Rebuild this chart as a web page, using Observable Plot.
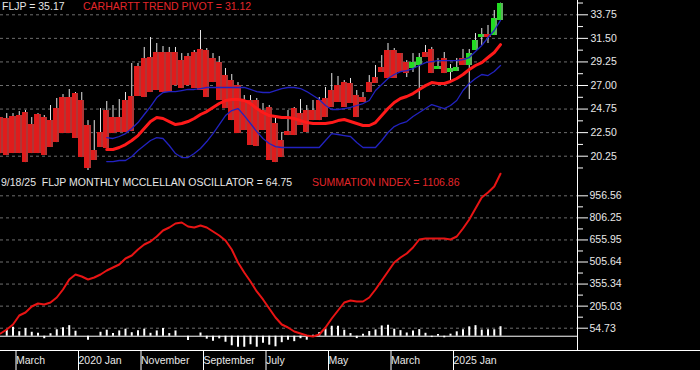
<!DOCTYPE html>
<html><head><meta charset="utf-8">
<script src="https://cdn.jsdelivr.net/npm/d3@7"></script>
<script src="https://cdn.jsdelivr.net/npm/@observablehq/plot@0.6"></script>
<style>
body{margin:0;background:#000;}
#chart{position:relative;width:700px;height:370px;background:#000;overflow:hidden;font-family:Arial,"Liberation Sans",sans-serif;}
#chart svg{position:absolute;left:0;display:block;}
#xline{position:absolute;left:0;top:350px;width:700px;height:0;border-top:1px solid #fff;}
.lbl{position:absolute;font-size:10.5px;line-height:12px;white-space:pre;}
</style></head><body>
<div id="chart"><div id="xline"></div></div>
<script>
// ---------- DATA (monthly, Jan 2019 .. Sep 2025) ----------
const opens = [23.94,23.85,24.04,24.13,24.42,23.27,24.23,23.94,23.65,24.80,
  25.85,25.85,26.23,25.57,23.18,20.79,22.51,24.61,23.94,23.94,
  25.57,25.95,28.81,29.58,29.67,30.15,30.15,30.15,30.15,29.38,
  29.77,30.15,30.44,30.34,29.58,29.19,27.95,27.47,26.99,25.57,
  25.57,25.57,24.61,24.90,23.37,21.75,22.60,24.80,24.32,24.61,
  24.61,25.57,25.76,26.52,26.99,27.28,27.19,26.04,25.85,27.28,
  27.76,28.72,30.34,30.34,30.05,29.19,28.62,28.91,30.15,30.44,
  28.53,29.58,28.24,28.33,29.58,28.91,30.34,31.58,31.87,31.77,33.21];
const closes = [20.50,20.31,20.50,20.50,19.64,20.50,20.50,20.31,21.08,21.55,
  22.41,22.41,21.94,20.12,19.07,19.84,21.08,20.98,22.41,22.51,
  22.51,22.60,25.95,25.85,26.33,26.52,26.33,26.33,26.99,26.71,
  26.99,26.71,26.52,25.85,27.28,25.57,24.80,23.65,22.41,22.70,
  21.27,21.17,22.70,19.84,19.64,20.12,22.22,22.22,23.18,22.51,
  23.65,23.65,23.94,24.90,25.38,24.90,25.28,23.94,25.38,26.33,
  27.19,28.24,27.67,27.67,28.24,28.14,29.19,29.67,29.67,28.14,
  28.81,28.14,28.62,28.72,28.91,30.05,31.30,31.87,31.58,33.40,34.86];
const highs = [23.94,24.32,24.32,24.51,24.61,23.94,24.32,24.13,25.09,25.76,
  26.14,26.62,26.33,26.33,23.65,23.65,24.80,25.47,25.09,25.66,
  26.33,29.10,29.10,30.63,31.58,31.01,30.72,30.63,30.63,30.05,
  30.05,30.34,32.25,30.53,30.05,29.77,28.62,28.05,27.28,26.04,
  26.04,25.76,25.28,25.09,23.85,22.51,24.61,24.90,25.66,25.09,
  25.57,25.85,26.81,28.14,27.86,27.47,27.67,26.52,26.33,27.95,
  28.91,29.86,31.01,30.53,30.05,29.38,30.05,30.05,30.82,30.63,
  29.58,30.15,29.00,29.58,30.44,30.44,31.96,32.44,32.73,34.16,34.86];
const lows = [20.50,20.31,20.50,20.50,19.64,20.50,20.50,20.31,21.08,21.55,
  22.41,22.41,21.94,20.12,18.59,19.84,21.08,20.98,22.41,22.51,
  22.51,22.60,25.95,25.85,26.33,26.52,26.33,26.33,26.99,26.71,
  26.99,26.71,26.52,25.85,27.28,25.57,24.80,23.65,22.41,22.70,
  21.27,21.17,22.70,19.84,19.64,20.12,22.22,22.22,23.18,22.51,
  23.65,23.65,23.94,24.90,25.38,24.90,25.28,23.94,25.38,26.33,
  27.19,28.24,27.67,27.67,28.24,27.76,28.24,25.66,29.67,28.14,
  28.53,28.14,27.19,28.33,28.91,25.66,30.34,30.82,31.01,31.77,33.21];
const trendPivot = [null,null,null,null,null,null,null,null,null,null,
  null,null,null,null,null,null,null,20.89,20.89,21.08,
  21.36,21.75,22.22,22.89,23.56,23.94,23.85,23.56,23.27,23.37,
  23.56,23.85,24.23,24.51,24.90,25.28,25.57,25.66,25.66,25.57,
  25.28,24.80,24.42,24.13,24.04,23.94,23.94,23.85,23.65,23.46,
  23.37,23.37,23.37,23.46,23.65,23.75,23.56,23.37,23.18,23.18,
  23.46,24.13,24.80,25.38,25.76,25.95,26.23,26.62,26.99,27.28,
  27.19,27.19,27.38,27.67,28.05,28.53,28.91,29.19,29.67,30.15,30.90];
const upperBand = [null,null,null,null,null,null,null,null,null,null,
  null,null,null,null,null,null,null,22.03,21.94,22.13,
  22.41,22.89,23.46,24.23,24.99,25.85,26.33,26.42,26.42,26.52,
  26.62,26.62,26.71,26.81,26.81,26.81,26.81,26.81,26.81,26.81,
  26.62,26.42,26.33,26.33,26.52,26.71,26.81,26.81,26.71,26.42,
  26.04,25.66,25.09,24.71,24.71,24.80,24.90,25.09,25.28,25.57,
  26.52,27.09,27.67,28.05,28.33,28.43,28.62,28.91,29.19,29.29,
  29.38,29.38,29.38,29.38,29.48,29.67,30.24,30.82,31.58,32.25,33.21];
const lowerBand = [null,null,null,null,null,null,null,null,null,null,
  null,null,null,null,null,null,null,19.74,19.74,19.84,
  19.84,20.22,20.79,21.27,21.75,22.03,21.94,21.27,20.50,20.12,
  20.12,20.50,20.98,21.65,22.41,23.27,24.13,24.61,24.80,24.13,
  23.37,22.60,21.94,21.46,21.17,21.08,21.08,21.08,21.08,21.08,
  21.08,21.08,21.75,22.41,22.32,22.22,22.13,21.55,21.08,21.08,
  21.08,21.75,22.51,23.08,23.37,23.56,24.04,24.42,24.80,25.18,
  24.99,24.80,25.09,25.57,26.52,27.19,27.67,28.05,27.95,28.33,28.91];
const summation = [18.6,45.9,79.9,141.2,161.7,202.6,223.0,216.2,229.8,263.9,
  318.4,386.5,420.5,406.9,386.5,400.1,420.5,447.8,468.2,488.7,
  529.6,550.0,590.9,624.9,645.4,679.4,720.3,740.7,768.0,774.8,
  747.5,740.7,754.4,740.7,713.5,686.2,652.1,590.9,502.3,434.2,
  372.9,304.8,250.3,189.0,127.7,80.0,59.5,32.3,18.6,5.0,
  -1.8,11.8,59.5,120.8,175.3,229.8,243.4,236.6,236.6,263.9,
  318.4,379.7,441.0,502.3,536.4,563.6,604.5,659.0,665.8,665.8,
  665.8,665.8,659.0,679.4,733.9,795.2,870.1,945.0,979.1,1020.0,1106.86];
const oscillator = [0,44,61,31,52,27,20,-17,17,44,
  58,72,34,0,-27,0,27,41,18,36,
  48,24,37,48,20,36,52,18,36,0,
  -29,0,22,-20,-34,-18,-41,-65,-75,-75,
  -58,-75,-48,-61,-72,-44,-27,-37,-17,-27,
  7,25,45,68,68,41,18,-16,14,32,
  43,70,75,48,38,22,36,45,20,-9,
  12,-11,14,30,45,64,72,42,44,44,64.75];
const priceTicks = [20.25,22.50,24.75,27.00,29.25,31.50,33.75];
const oscTicks = [54.73,205.03,355.34,505.64,655.95,806.25,956.56];
const xTickMonths = [2,12,22,32,42,52,62,72];
const xTickLabels = ["March","2020 Jan","November","September","July","May","March","2025 Jan"];

// ---------- BUILD ----------
const idx = opens.map((_, i) => i);
const bars = idx.map(i => ({i, open: opens[i], close: closes[i], high: highs[i], low: lows[i]}));
const upBars = bars.filter(d => d.close > d.open);
const downBars = bars.filter(d => d.close <= d.open);
const mid = t => d3.pairs(t).map(([a, b]) => (a + b) / 2);
const priceMinor = [...mid(priceTicks), 19.125, 34.875];
const oscMinor = mid(oscTicks);
const xDomain = [0, 92.32];
const font = {background: "transparent", color: "#e8e8e8", fontSize: "10.5px", fontFamily: "Arial, 'Liberation Sans', sans-serif", overflow: "visible"};
const grid = {stroke: "#6e6e6e", strokeOpacity: 1, strokeDasharray: "3,3"};

const candle = (data, c1, c2) => [
  Plot.rect(data, {x1: d => d.i - 0.5, x2: d => d.i + 0.18, y1: "open", y2: "close", fill: c1, clip: true, shapeRendering: "crispEdges"}),
  Plot.rect(data, {x1: d => d.i + 0.18, x2: d => d.i + 0.5, y1: "open", y2: "close", fill: c2, clip: true, shapeRendering: "crispEdges"})
];

const topPlot = Plot.plot({
  width: 700, height: 170, marginLeft: 0, marginRight: 123, marginTop: 0, marginBottom: 0,
  x: {domain: xDomain, axis: null},
  y: {domain: [18.884, 35.116]},
  style: font,
  marks: [
    Plot.gridY(priceTicks, grid),
    Plot.ruleX(bars, {x: "i", y1: "low", y2: "high", stroke: "#e6e6e6", strokeWidth: 1, clip: true}),
    ...candle(downBars, "#e01c1c", "#b03636"),
    ...candle(upBars, "#22dd22", "#5fae5f"),
    Plot.line(idx, {x: i => i, y: i => upperBand[i], stroke: "#2222c0", strokeWidth: 1.3}),
    Plot.line(idx, {x: i => i, y: i => lowerBand[i], stroke: "#2222c0", strokeWidth: 1.3}),
    Plot.line(idx, {x: i => i, y: i => trendPivot[i], stroke: "#ff1a1a", strokeWidth: 3}),
    Plot.ruleX([xDomain[1]], {stroke: "#fff"}),
    Plot.axisY(priceTicks, {anchor: "right", tickSize: 10, tickPadding: 3, tickFormat: d => d.toFixed(2), stroke: "#fff"}),
    Plot.axisY(priceMinor, {anchor: "right", tickSize: 5, tickFormat: () => "", stroke: "#fff"})
  ]
});
topPlot.style.top = "0px";

const bottomPlot = Plot.plot({
  width: 700, height: 200, marginLeft: 0, marginRight: 123, marginTop: 0, marginBottom: 20,
  x: {domain: xDomain},
  y: {domain: [-97.2, 1129.0]},
  style: font,
  marks: [
    Plot.gridY(oscTicks, grid),
    Plot.ruleX(idx, {x: i => i, y1: 0, y2: i => oscillator[i], stroke: "#fff", strokeWidth: 2}),
    Plot.ruleY([0], {stroke: "#fff"}),
    Plot.line(idx, {x: i => i, y: i => summation[i], stroke: "#e81414", strokeWidth: 2}),
    Plot.ruleX([xDomain[1]], {stroke: "#fff"}),
    Plot.axisY(oscTicks, {anchor: "right", tickSize: 10, tickPadding: 2, tickFormat: d => d.toFixed(2), stroke: "#fff"}),
    Plot.axisY(oscMinor, {anchor: "right", tickSize: 5, tickFormat: () => "", stroke: "#fff"}),
    Plot.axisX(xTickMonths, {anchor: "bottom", tickSize: 20, tickPadding: -10, lineAnchor: "middle", textAnchor: "start", dx: 3,
      tickFormat: d => xTickLabels[xTickMonths.indexOf(d)], stroke: "#fff"})
  ]
});
bottomPlot.style.top = "170px";

const chart = document.getElementById("chart");
chart.appendChild(topPlot);
chart.appendChild(bottomPlot);

const labels = [
  {t: "FLJP = 35.17", x: 2, y: 0, c: "#e6e6e6"},
  {t: "CARHARTT TREND PIVOT = 31.12", x: 83, y: 0, c: "#e3262a"},
  {t: "9/18/25  FLJP MONTHLY MCCLELLAN OSCILLATOR = 64.75", x: 1, y: 175.5, c: "#e6e6e6"},
  {t: "SUMMATION INDEX = 1106.86", x: 312, y: 175.5, c: "#e3262a"}
];
for (const l of labels) {
  const div = document.createElement("div");
  div.className = "lbl";
  div.textContent = l.t;
  div.style.left = l.x + "px";
  div.style.top = l.y + "px";
  div.style.color = l.c;
  chart.appendChild(div);
}
</script>
</body></html>
